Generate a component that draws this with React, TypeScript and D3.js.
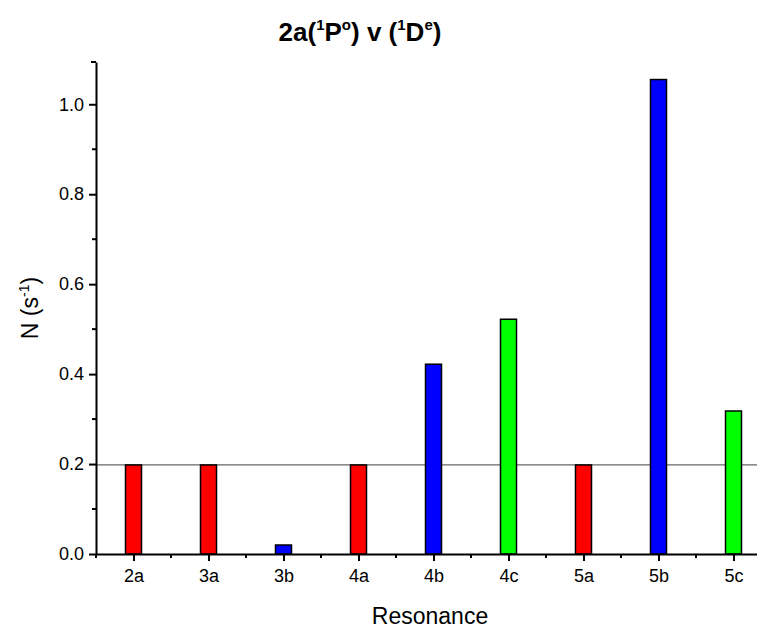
import React, { useEffect, useRef } from 'react';
import * as d3 from 'd3';

const categories = ['2a', '3a', '3b', '4a', '4b', '4c', '5a', '5b', '5c'];
const values = [0.198, 0.198, 0.02, 0.198, 0.422, 0.522, 0.198, 1.055, 0.318];
const barColors = ['#ff0000', '#ff0000', '#0000ff', '#ff0000', '#0000ff', '#00ff00', '#ff0000', '#0000ff', '#00ff00'];
const yMajorTicks = [0, 0.2, 0.4, 0.6, 0.8, 1.0];
const yMinorTicks = [0.1, 0.3, 0.5, 0.7, 0.9];
const refLevel = 0.198;

const App = () => {
  const svgRef = useRef<SVGSVGElement>(null);

  useEffect(() => {
    const svg = d3.select(svgRef.current);
    const W = 757;
    const H = 628;
    const left = 96;
    const bottom = 554;
    const top = 62;
    const right = 771; // axis runs past the visible edge
    const barW = 16;
    const font = 'Liberation Sans, Arial, sans-serif';

    svg.selectAll('*').remove();

    const x = d3.scalePoint<string>().domain(categories).range([left, right]).padding(0.5);
    const step = x.step();
    const y = d3.scaleLinear().domain([0, 1.094]).range([bottom, top]);

    // reference line
    svg.append('line')
      .attr('x1', left).attr('x2', W)
      .attr('y1', y(refLevel)).attr('y2', y(refLevel))
      .attr('stroke', '#666').attr('stroke-width', 1.3);

    // bars
    svg.append('g')
      .selectAll('rect')
      .data(values)
      .join('rect')
        .attr('x', (d, i) => (x(categories[i]) as number) - barW / 2)
        .attr('y', d => y(d))
        .attr('width', barW)
        .attr('height', d => y(0) - y(d))
        .attr('fill', (d, i) => barColors[i])
        .attr('stroke', '#000')
        .attr('stroke-width', 1.5);

    // x axis
    const gx = svg.append('g')
      .attr('transform', `translate(0,${bottom})`)
      .call(d3.axisBottom(x).tickSize(7).tickSizeOuter(0).tickPadding(8));
    gx.select('.domain').attr('stroke-width', 2);
    gx.selectAll('.tick line').attr('stroke-width', 2);
    gx.selectAll('.tick text').attr('font-family', font).attr('font-size', 18).attr('fill', '#000');
    gx.selectAll('.minor')
      .data(categories.map((c, i) => (x(c) as number) - step / 2).concat([(x(categories[categories.length - 1]) as number) + step / 2]))
      .join('line')
        .attr('class', 'minor')
        .attr('x1', d => d).attr('x2', d => d)
        .attr('y1', 0).attr('y2', 4)
        .attr('stroke', '#000').attr('stroke-width', 2);

    // y axis
    const gy = svg.append('g')
      .attr('transform', `translate(${left},0)`)
      .call(d3.axisLeft(y).tickValues(yMajorTicks).tickFormat(d3.format('.1f')).tickSize(7).tickSizeOuter(0).tickPadding(5));
    gy.select('.domain').attr('stroke-width', 2);
    gy.selectAll('.tick line').attr('stroke-width', 2);
    gy.selectAll('.tick text').attr('font-family', font).attr('font-size', 18).attr('fill', '#000');
    gy.selectAll('.minor')
      .data(yMinorTicks)
      .join('line')
        .attr('class', 'minor')
        .attr('x1', -4).attr('x2', 0)
        .attr('y1', d => y(d)).attr('y2', d => y(d))
        .attr('stroke', '#000').attr('stroke-width', 2);
    gy.append('line')
      .attr('x1', -5).attr('x2', 0)
      .attr('y1', top).attr('y2', top)
      .attr('stroke', '#000').attr('stroke-width', 2);

    // axis titles
    svg.append('text')
      .attr('x', 430).attr('y', 624)
      .attr('text-anchor', 'middle')
      .attr('font-family', font).attr('font-size', 23)
      .text('Resonance');

    const yl = svg.append('text')
      .attr('transform', `translate(38,${(top + bottom) / 2}) rotate(-90)`)
      .attr('text-anchor', 'middle')
      .attr('font-family', font).attr('font-size', 23);
    yl.append('tspan').text('N (s');
    yl.append('tspan').attr('font-size', 14).attr('dy', -9).text('-1');
    yl.append('tspan').attr('dy', 9).text(')');

    // title
    const t = svg.append('text')
      .attr('x', 360).attr('y', 41)
      .attr('text-anchor', 'middle')
      .attr('font-family', font).attr('font-size', 26).attr('font-weight', 'bold');
    t.append('tspan').text('2a(');
    t.append('tspan').attr('font-size', 15).attr('dy', -11).text('1');
    t.append('tspan').attr('dy', 11).text('P');
    t.append('tspan').attr('font-size', 15).attr('dy', -11).text('o');
    t.append('tspan').attr('dy', 11).text(') v (');
    t.append('tspan').attr('font-size', 15).attr('dy', -11).text('1');
    t.append('tspan').attr('dy', 11).text('D');
    t.append('tspan').attr('font-size', 15).attr('dy', -11).text('e');
    t.append('tspan').attr('dy', 11).text(')');

    svg.attr('width', W).attr('height', H);
  }, []);

  return <svg ref={svgRef} width={757} height={628} style={{ position: 'absolute', left: 0, top: 0, background: '#fff', overflow: 'hidden' }}></svg>;
};

export default App;
